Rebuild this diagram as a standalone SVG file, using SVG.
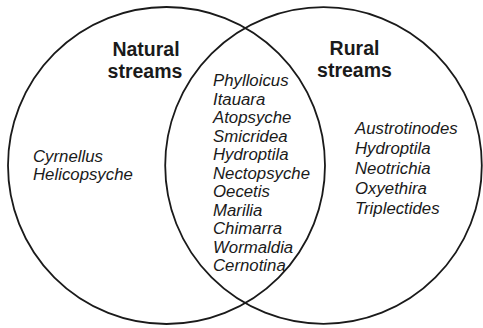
<svg xmlns="http://www.w3.org/2000/svg" width="483" height="328" viewBox="0 0 483 328">
<style>
.c{fill:none;stroke:#1a1a1a;stroke-width:1.8}
.h{font-family:"Liberation Sans",Arial,sans-serif;font-weight:bold;font-size:19.5px;fill:#1a1a1a;text-anchor:middle}
.s{font-family:"Liberation Sans",Arial,sans-serif;font-style:italic;font-size:16.8px;fill:#1a1a1a}
</style>
<rect width="483" height="328" fill="#fff"/>
<g id="natural">
<circle class="c" cx="166.5" cy="165.5" r="158.5"/>
<text class="h" x="146" y="55.5">Natural</text>
<text class="h" x="145" y="78">streams</text>
<text class="s" x="33" y="162">Cyrnellus</text>
<text class="s" x="33" y="180">Helicopsyche</text>
</g>
<g id="rural">
<circle class="c" cx="323.5" cy="165.5" r="158.3"/>
<text class="h" x="354.5" y="54.5">Rural</text>
<text class="h" x="354.5" y="77">streams</text>
<text class="s" x="355" y="134">Austrotinodes</text>
<text class="s" x="355" y="154">Hydroptila</text>
<text class="s" x="355" y="174">Neotrichia</text>
<text class="s" x="355" y="193.5">Oxyethira</text>
<text class="s" x="355" y="213.5">Triplectides</text>
</g>
<g id="shared">
<text class="s" x="213" y="86">Phylloicus</text>
<text class="s" x="213" y="104.5">Itauara</text>
<text class="s" x="213" y="123">Atopsyche</text>
<text class="s" x="213" y="141.5">Smicridea</text>
<text class="s" x="213" y="160">Hydroptila</text>
<text class="s" x="213" y="178.5">Nectopsyche</text>
<text class="s" x="213" y="197">Oecetis</text>
<text class="s" x="213" y="215.5">Marilia</text>
<text class="s" x="213" y="234">Chimarra</text>
<text class="s" x="213" y="252.5">Wormaldia</text>
<text class="s" x="213" y="271">Cernotina</text>
</g>
<g id="connectors"></g>
</svg>
